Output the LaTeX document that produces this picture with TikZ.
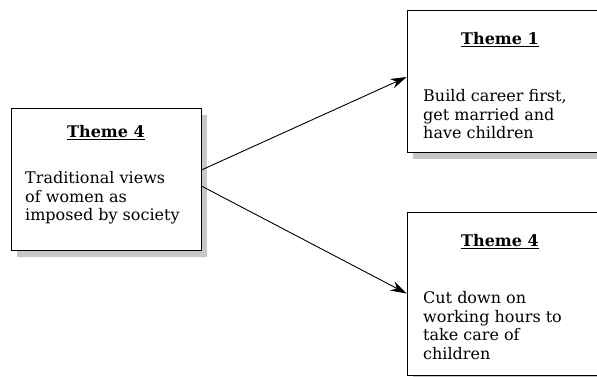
\documentclass[tikz,border=0pt]{standalone}
\usepackage{fontspec}
\setmainfont{DejaVu Serif}
\usetikzlibrary{arrows.meta,calc,shadows}
\begin{document}
\begin{tikzpicture}[x=1pt,y=1pt,
  box/.style={draw=black, line width=0.8pt, fill=white, inner sep=0pt,
    drop shadow={shadow xshift=6pt, shadow yshift=-7pt, fill=black!22, opacity=1}},
  ttl/.style={font=\fontsize{16}{18}\selectfont\bfseries, inner sep=0pt},
  body/.style={font=\fontsize{16}{18.5}\selectfont, align=left, anchor=north west, inner sep=0pt},
  conn/.style={-{Stealth[length=16pt,width=10pt,inset=5pt]}, line width=0.9pt}]
\useasboundingbox (0,0) rectangle (597,-376);
\node[box, minimum width=190pt, minimum height=142pt] (L) at (106,-179) {};
\node[box, minimum width=190pt, minimum height=142pt] (A) at (502,-81) {};
\node[box, minimum width=190pt, minimum height=163pt] (B) at (502,-293.5) {};
\node[ttl] (Lt) at (106,-132.5) {\underline{Theme 4}};
\node[ttl] (At) at (500,-39.5) {\underline{Theme 1}};
\node[ttl] (Bt) at (500,-241.5) {\underline{Theme 4}};
\node[body] (Lb) at (25,-171.5) {Traditional views\\of women as\\imposed by society};
\node[body] (Ab) at (423,-89.5) {Build career first,\\get married and\\have children};
\node[body] (Bb) at (423,-291.5) {Cut down on\\working hours to\\take care of\\children};
\draw[conn] ($(L.east)+(0,9)$) -- ($(A.west)+(0,4)$);
\draw[conn] ($(L.east)+(0,-7)$) -- (B.west);
\end{tikzpicture}
\end{document}
